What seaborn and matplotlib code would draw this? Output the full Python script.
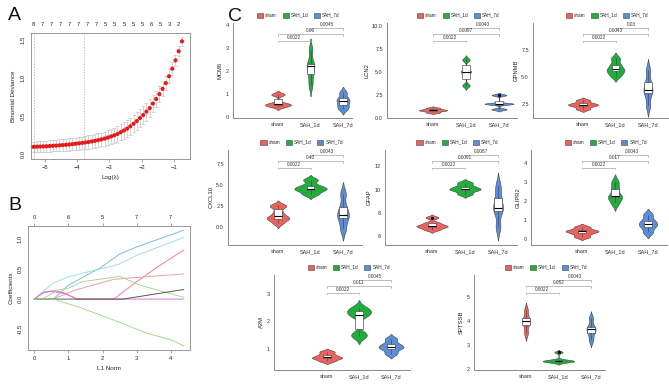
import numpy as np
import pandas as pd
import matplotlib
matplotlib.use("Agg")
import matplotlib.pyplot as plt
import seaborn as sns
from matplotlib.patches import Patch

sns.set_theme(style="white")
plt.rcParams["font.family"] = ["Liberation Sans", "DejaVu Sans"]

W, H = 669, 385

# ---------------- Panel A data (CV curve) ----------------
loglam = [-5.35, -5.25, -5.15, -5.05, -4.95, -4.85, -4.75, -4.65, -4.55, -4.45,
          -4.35, -4.25, -4.15, -4.05, -3.95, -3.85, -3.75, -3.65, -3.55, -3.45,
          -3.35, -3.25, -3.15, -3.05, -2.95, -2.85, -2.75, -2.65, -2.55, -2.45,
          -2.35, -2.25, -2.15, -2.05, -1.95, -1.85, -1.75, -1.65, -1.55, -1.45,
          -1.35, -1.25, -1.15, -1.05, -0.95, -0.85, -0.75]
deviance = [0.090, 0.092, 0.094, 0.096, 0.098, 0.101, 0.104, 0.107, 0.110, 0.113,
            0.117, 0.121, 0.126, 0.131, 0.136, 0.142, 0.148, 0.154, 0.161, 0.169,
            0.178, 0.188, 0.199, 0.212, 0.226, 0.242, 0.260, 0.283, 0.305, 0.330,
            0.360, 0.395, 0.430, 0.470, 0.510, 0.555, 0.600, 0.660, 0.720, 0.785,
            0.855, 0.930, 1.020, 1.120, 1.230, 1.350, 1.480]
dev_se = [0.070, 0.070, 0.071, 0.072, 0.073, 0.074, 0.075, 0.076, 0.077, 0.078,
          0.079, 0.080, 0.081, 0.082, 0.083, 0.084, 0.085, 0.086, 0.087, 0.088,
          0.089, 0.090, 0.092, 0.094, 0.096, 0.098, 0.100, 0.103, 0.106, 0.109,
          0.112, 0.115, 0.118, 0.120, 0.120, 0.118, 0.115, 0.112, 0.108, 0.104,
          0.100, 0.095, 0.090, 0.082, 0.074, 0.064, 0.055]
lambda_min, lambda_1se = -5.35, -3.78
nzero_labels = ["8", "7", "7", "7", "7", "7", "7", "7", "5", "5", "5", "5", "5",
                "6", "5", "3", "2"]

# ---------------- Panel B data (coefficient paths) ----------------
path_colors = ["#7fb8e8", "#9edfe6", "#f07f98", "#f29aae", "#a6dc8f",
               "#d37ad6", "#555555", "#a6dc8f"]
path_x = [[0, 0.56, 1.0, 1.93, 2.5, 3.0, 4.38],
          [0, 0.56, 1.0, 1.4, 2.48, 3.0, 4.38],
          [0, 0.3, 0.6, 0.9, 1.25, 2.33, 3.0, 3.7, 4.38],
          [0, 0.56, 1.2, 2.33, 3.0, 4.38],
          [0, 0.24, 0.68, 1.0, 1.4, 2.4, 2.5, 3.1, 4.38],
          [0, 0.25, 0.5, 0.9, 1.25, 4.38],
          [0, 2.6, 4.38],
          [0, 0.56, 1.0, 1.34, 2.33, 3.3, 4.0, 4.38]]
path_y = [[0, 0, 0.23, 0.52, 0.75, 0.87, 1.15],
          [0, 0.27, 0.37, 0.43, 0.58, 0.73, 1.03],
          [0, 0.12, 0.14, 0.10, 0, 0, 0.29, 0.57, 0.82],
          [0, 0, 0.15, 0.33, 0.36, 0.42],
          [0, 0, 0.15, 0.18, 0.29, 0.37, 0.38, 0.23, 0.03],
          [0, 0.10, 0.13, 0.09, 0, 0],
          [0, 0, 0.16],
          [0, 0, -0.08, -0.14, -0.35, -0.57, -0.68, -0.78]]
l1_top_labels = ["0", "6", "5", "7", "7"]

# ---------------- Panel C data (violins) ----------------
groups = ["sham", "SAH_1d", "SAH_7d"]
group_colors = ["#EC625C", "#1DAE3C", "#5A8ED8"]
genes = ["MCM6", "LCN2", "GPNMB", "CXCL10", "GFAP", "GLIPR2", "A2M", "SPTSSB"]
sham_vals = [[0.44, 0.49, 0.52, 0.55, 0.60, 0.96, 0.98],
             [0.55, 0.72, 0.80, 0.88, 1.05],
             [2.05, 2.33, 2.45, 2.57, 2.85],
             [0.5, 0.95, 1.1, 1.3, 1.8, 2.5, 2.6],
             [6.55, 6.75, 6.85, 6.95, 7.15, 7.6],
             [0.12, 0.30, 0.42, 0.46, 0.64],
             [0.55, 0.65, 0.68, 0.77, 0.89],
             [3.48, 3.82, 4.0, 4.1, 4.44]]
sah1_vals = [[1.39, 1.85, 2.2, 2.3, 2.91],
             [3.45, 3.55, 4.9, 5.0, 5.1, 6.25, 6.35],
             [5.1, 5.5, 5.7, 6.1, 6.7],
             [3.95, 4.45, 4.6, 4.95, 5.65],
             [9.62, 9.95, 10.05, 10.25, 10.58],
             [1.88, 2.2, 2.25, 2.65, 3.02],
             [1.45, 1.55, 2.2, 2.3, 2.4, 2.5],
             [2.28, 2.31, 2.33, 2.35, 2.38, 2.7]]
sah7_vals = [[0.34, 0.50, 0.68, 0.80, 1.06],
             [0.88, 0.92, 1.45, 1.5, 1.5, 1.55, 2.42, 2.48],
             [2.4, 3.55, 3.8, 4.5, 5.6],
             [-0.2, 1.1, 1.5, 2.4, 4.0],
             [6.8, 8.2, 8.45, 9.3, 10.3],
             [0.35, 0.65, 0.80, 0.97, 1.29],
             [0.82, 1.0, 1.07, 1.17, 1.36],
             [3.2, 3.48, 3.65, 3.75, 4.1]]
p_sham_1d = ["0.0022"] * 8
p_sham_7d = ["0.66", "0.0097", "0.0043", "0.43", "0.0091", "0.017", "0.011", "0.052"]
p_1d_7d = ["0.0045", "0.0043", "0.03", "0.0043", "0.0087", "0.0043", "0.0045", "0.0043"]
y_ticks = [[0, 1, 2, 3, 4], [0, 2.5, 5, 7.5, 10], [2.5, 5, 7.5], [0, 2.5, 5, 7.5],
           [6, 8, 10, 12], [0, 1, 2, 3, 4], [1, 2, 3], [2, 3, 4, 5]]
y_fmt = ["{:.0f}", "{:.1f}", "{:.1f}", "{:.1f}", "{:.0f}", "{:.0f}", "{:.0f}", "{:.0f}"]
y_lims = [(-0.05, 4.07), (-0.05, 10.3), (1.23, 9.95), (-2.1, 9.2),
          (5.24, 13.4), (-0.31, 4.69), (0.22, 3.7), (1.96, 5.9)]

# violin widths and bandwidth adjustments (style), per panel: sham, SAH_1d, SAH_7d
v_width = [[0.80, 0.24, 0.40], [0.85, 0.32, 0.88], [0.92, 0.55, 0.28],
           [0.70, 1.00, 0.36], [0.95, 0.95, 0.30], [1.00, 0.43, 0.56],
           [0.95, 0.75, 0.78], [0.24, 0.97, 0.28]]
v_bw = [[0.45, 0.55, 0.55], [0.55, 0.25, 0.25], [0.55, 0.55, 0.55],
        [0.50, 0.55, 0.55], [0.45, 0.55, 0.55], [0.55, 0.55, 0.55],
        [0.55, 0.40, 0.55], [0.55, 0.40, 0.55]]

# panel layout in pixels: (sham_x, spacing, left, right, top, bottom)
layout = [(278, 32.5, 233, 352, 23, 118), (433, 33, 387, 517, 23, 118),
          (583, 32.5, 533, 668, 23, 118), (278, 32.5, 228, 362, 150, 245),
          (432, 33, 385, 517, 150, 245), (582, 33, 531, 667, 150, 245),
          (327, 32, 274, 410, 275, 370), (526, 32.5, 474, 605, 275, 370)]


def rect(l, t, r, b):
    return [l / W, 1 - b / H, (r - l) / W, (b - t) / H]


fig = plt.figure(figsize=(W / 100, H / 100), dpi=100)
fig.patch.set_facecolor("white")

axcol = "#888888"
tfs = 4.2

# ---------------- Panel A ----------------
axA = fig.add_axes(rect(31, 33, 190, 159))
axA.errorbar(loglam, deviance, yerr=dev_se, fmt="none", ecolor="#c4c4c4",
             elinewidth=0.5, capsize=1.2, capthick=0.5, zorder=1)
sns.scatterplot(x=loglam, y=deviance, ax=axA, color="#e41a1c", s=9,
                edgecolor="none", zorder=3)
for v in (lambda_min, lambda_1se):
    axA.axvline(v, color="#aaaaaa", lw=0.5, ls=(0, (2, 2)))
axA.set_xlim(-5.43, -0.5)
axA.set_ylim(-0.07, 1.59)
axA.set_xticks([-5, -4, -3, -2, -1])
axA.set_yticks([0.0, 0.5, 1.0, 1.5])
axA.set_yticklabels(["0.0", "0.5", "1.0", "1.5"], rotation=90, va="center")
axA.set_xlabel("Log(\u03bb)", fontsize=4.5, labelpad=4)
axA.set_ylabel("Binomial Deviance", fontsize=4.5, labelpad=3)
axA.tick_params(labelsize=tfs, length=2, width=0.5, color=axcol, pad=2)
for s in axA.spines.values():
    s.set_color(axcol)
    s.set_linewidth(0.6)
axA2 = axA.twiny()
axA2.set_xlim(axA.get_xlim())
axA2.set_xticks(np.linspace(-5.37, -0.85, len(nzero_labels)))
axA2.set_xticklabels(nzero_labels)
axA2.tick_params(labelsize=tfs, length=0, pad=4)
for s in axA2.spines.values():
    s.set_visible(False)

# ---------------- Panel B ----------------
axB = fig.add_axes(rect(28, 226, 190, 350))
for xs, ys, c in zip(path_x, path_y, path_colors):
    sns.lineplot(x=xs, y=ys, ax=axB, color=c, lw=0.7, sort=False,
                 estimator=None)
axB.set_xlim(-0.18, 4.56)
axB.set_ylim(-0.85, 1.22)
axB.set_xticks([0, 1, 2, 3, 4])
axB.set_yticks([-0.5, 0.0, 0.5, 1.0])
axB.set_yticklabels(["-0.5", "0.0", "0.5", "1.0"], rotation=90, va="center")
axB.set_xlabel("L1 Norm", fontsize=4.5, labelpad=4)
axB.set_ylabel("Coefficients", fontsize=4.5, labelpad=3)
axB.tick_params(labelsize=tfs, length=2, width=0.5, color=axcol, pad=2)
for s in axB.spines.values():
    s.set_color(axcol)
    s.set_linewidth(0.6)
axB2 = axB.twiny()
axB2.set_xlim(axB.get_xlim())
axB2.set_xticks([0, 1, 2, 3, 4])
axB2.set_xticklabels(l1_top_labels)
axB2.tick_params(labelsize=tfs, length=2, width=0.5, color=axcol, pad=2)
for s in axB2.spines.values():
    s.set_visible(False)

# ---------------- Panel C ----------------
for i, gene in enumerate(genes):
    sx, sp, l, r, t, b = layout[i]
    ax = fig.add_axes(rect(l, t, r, b))
    df = pd.DataFrame({
        "group": (["sham"] * len(sham_vals[i]) + ["SAH_1d"] * len(sah1_vals[i])
                  + ["SAH_7d"] * len(sah7_vals[i])),
        "value": sham_vals[i] + sah1_vals[i] + sah7_vals[i],
    })
    for j, g in enumerate(groups):
        sub = df[df["group"] == g]
        sns.violinplot(data=sub, x="group", y="value", order=groups,
                       color=group_colors[j], inner=None, cut=2.2,
                       bw_adjust=v_bw[i][j], width=v_width[i][j],
                       linewidth=0.4, linecolor="#444444", saturation=1, ax=ax)
    sns.boxplot(data=df, x="group", y="value", order=groups, color="white",
                width=0.24, showfliers=True, linewidth=0.45,
                linecolor="#444444", saturation=1,
                flierprops={"marker": "o", "markersize": 1.2,
                            "markerfacecolor": "black",
                            "markeredgecolor": "black"},
                medianprops={"color": "black", "linewidth": 0.8},
                capprops={"linewidth": 0}, ax=ax)
    ax.set_xlim((l - sx) / sp, (r - sx) / sp)
    ax.set_ylim(*y_lims[i])
    ax.set_yticks(y_ticks[i])
    ax.set_yticklabels([y_fmt[i].format(v) for v in y_ticks[i]])
    ax.set_xlabel("")
    ax.set_ylabel(gene, fontsize=4.2, labelpad=2)
    ax.tick_params(labelsize=4, length=1.5, width=0.4, color=axcol, pad=1.5,
                   labelcolor="#333333")
    sns.despine(ax=ax)
    for s in ("left", "bottom"):
        ax.spines[s].set_color(axcol)
        ax.spines[s].set_linewidth(0.7)
    tr = ax.get_xaxis_transform()
    for (x1, x2), yf, lab in (((0, 1), 0.815, p_sham_1d[i]),
                              ((0, 2), 0.885, p_sham_7d[i]),
                              ((1, 2), 0.945, p_1d_7d[i])):
        ax.plot([x1, x1, x2, x2], [yf - 0.02, yf, yf, yf - 0.02], transform=tr,
                color="#999999", lw=0.45, clip_on=False)
        ax.text((x1 + x2) / 2, yf + 0.008, lab, transform=tr, ha="center",
                va="bottom", fontsize=3.4, color="#333333")
    handles = [Patch(facecolor=c, edgecolor="#444444", lw=0.4) for c in group_colors]
    ax.legend(handles, groups, loc="lower center", bbox_to_anchor=(0.55, 1.03),
              ncol=3, frameon=False, fontsize=3.4, handlelength=1.3,
              handleheight=1.3, columnspacing=1.2, handletextpad=0.4,
              borderpad=0)

# panel letters
fig.text(8 / W, 1 - 20 / H, "A", fontsize=14, color="#111111")
fig.text(8 / W, 1 - 210 / H, "B", fontsize=14, color="#111111")
fig.text(228 / W, 1 - 21 / H, "C", fontsize=14, color="#111111")

fig.savefig("out.png", dpi=100, facecolor="white")
